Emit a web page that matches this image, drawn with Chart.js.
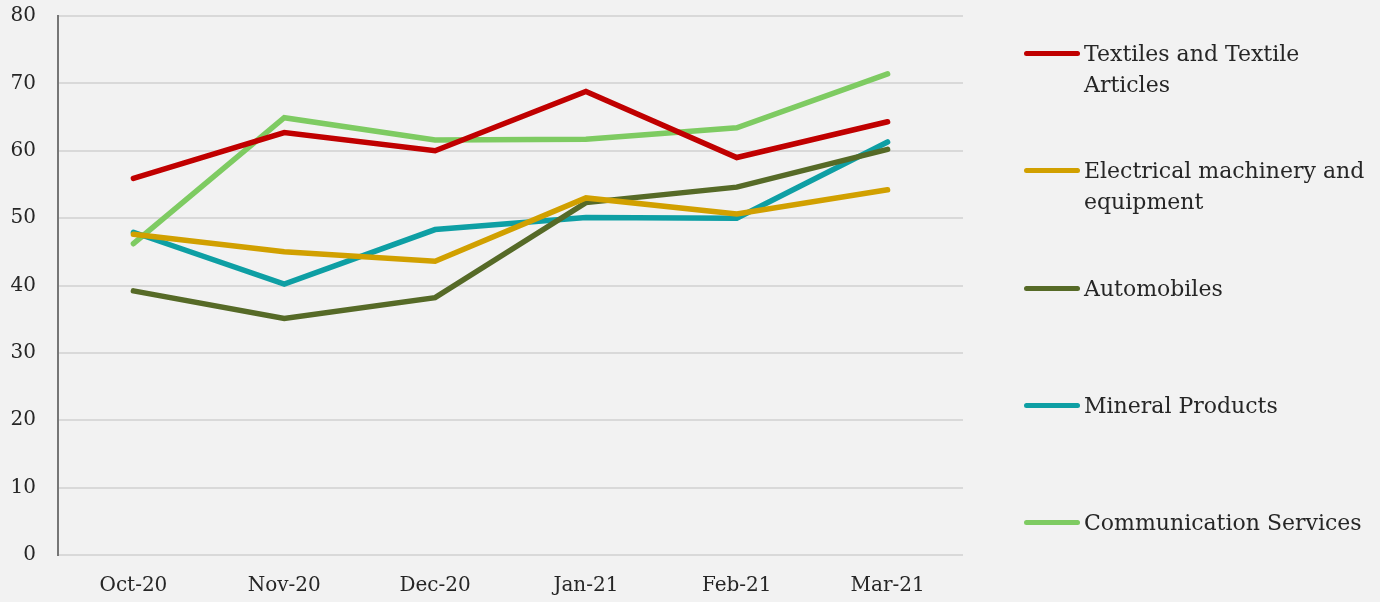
<!DOCTYPE html>
<html>
<head>
<meta charset="utf-8">
<script src="https://cdn.jsdelivr.net/npm/chart.js@4.4.0/dist/chart.umd.min.js"></script>
<style>
    html, body { margin: 0; padding: 0; background: #f2f2f2; }
    #wrap { position: relative; width: 1380px; height: 602px; }
    #legend { position: absolute; left: 1024px; top: 0; font-family: "DejaVu Serif", serif; font-size: 22px; color: #262626; }
    .item { position: absolute; left: 0; width: 350px; display: flex; align-items: flex-start; }
    .swatch { width: 56px; height: 5px; border-radius: 3px; flex: none; }
    .txt { margin-left: 4px; line-height: 31px; white-space: pre; }
</style>
</head>
<body>
<div id="wrap">
    <canvas id="lineChart" width="1380" height="602"></canvas>
    <div id="legend"></div>
</div>
<script>
// Datos
const meses = ['Oct-20', 'Nov-20', 'Dec-20', 'Jan-21', 'Feb-21', 'Mar-21'];
const textiles = [55.9, 62.7, 60.0, 68.8, 59.0, 64.3];
const electrical = [47.6, 45.0, 43.6, 53.0, 50.6, 54.2];
const automobiles = [39.2, 35.1, 38.2, 52.3, 54.6, 60.2];
const mineral = [47.9, 40.2, 48.3, 50.1, 50.0, 61.3];
const communication = [46.2, 64.9, 61.6, 61.7, 63.4, 71.4];

const nombres = ['Textiles and Textile Articles', 'Electrical machinery and equipment',
    'Automobiles', 'Mineral Products', 'Communication Services'];
const leyendaLineas = ['Textiles and Textile\nArticles', 'Electrical machinery and\nequipment',
    'Automobiles', 'Mineral Products', 'Communication Services'];
const colores = ['#c00000', '#d1a000', '#566a27', '#0e9fa4', '#7ecb62'];
const yTicks = [0, 10, 20, 30, 40, 50, 60, 70, 80];

function makeDataset(i, data) {
    return {
        label: nombres[i],
        data: data,
        borderColor: colores[i],
        backgroundColor: colores[i],
        borderWidth: 5.5,
        borderCapStyle: 'round',
        borderJoinStyle: 'miter',
        pointRadius: 0,
        tension: 0,
        fill: false
    };
}

const fuente = { family: '"DejaVu Serif", serif', size: 20 };

new Chart(document.getElementById('lineChart').getContext('2d'), {
    type: 'line',
    data: {
        labels: meses,
        datasets: [
            makeDataset(0, textiles),
            makeDataset(1, electrical),
            makeDataset(2, automobiles),
            makeDataset(3, mineral),
            makeDataset(4, communication)
        ]
    },
    options: {
        responsive: false,
        animation: false,
        layout: { padding: { top: 0, right: 417, bottom: 0, left: 0 } },
        plugins: {
            legend: { display: false },
            tooltip: { enabled: false }
        },
        scales: {
            x: {
                offset: true,
                grid: { display: false, drawTicks: false },
                border: { display: false },
                ticks: { font: fuente, color: '#262626', padding: 19, maxRotation: 0 },
                afterFit: function(axis) { axis.height = 47; }
            },
            y: {
                min: 0,
                max: 80,
                afterBuildTicks: function(axis) {
                    axis.ticks = yTicks.map(v => ({ value: v }));
                },
                grid: { color: '#d9d9d9', lineWidth: 2, drawTicks: false },
                border: { display: true, color: '#767676', width: 2 },
                ticks: { font: fuente, color: '#262626', padding: 22 },
                afterFit: function(axis) {
                    axis.width = 58;
                    // el padding de las etiquetas no debe empujar el área del gráfico
                    axis.paddingTop = 16;
                    axis.paddingBottom = 0;
                }
            }
        }
    }
});

// Leyenda a la derecha
const posY = [53, 170, 288, 405, 522];
const legend = document.getElementById('legend');
leyendaLineas.forEach((txt, i) => {
    const item = document.createElement('div');
    item.className = 'item';
    item.style.top = (posY[i] - 15) + 'px';
    const sw = document.createElement('div');
    sw.className = 'swatch';
    sw.style.background = colores[i];
    sw.style.marginTop = '13px';
    const t = document.createElement('div');
    t.className = 'txt';
    t.textContent = txt;
    item.appendChild(sw);
    item.appendChild(t);
    legend.appendChild(item);
});
</script>
</body>
</html>
